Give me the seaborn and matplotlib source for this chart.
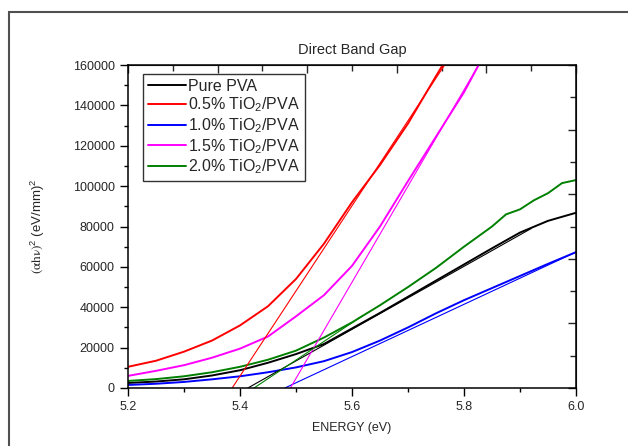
import matplotlib
matplotlib.use("Agg")
import pandas as pd
import matplotlib.pyplot as plt
import seaborn as sns
from matplotlib.patches import Rectangle
from matplotlib.ticker import MultipleLocator, FixedLocator, NullFormatter

# === data ===
x_pure = [5.20, 5.25, 5.30, 5.35, 5.40, 5.45, 5.50, 5.55, 5.60, 5.65, 5.70, 5.75, 5.80, 5.85, 5.90, 5.95, 6.00]
y_pure = [2500, 3200, 4300, 6200, 8800, 12500, 16800, 21800, 29500, 37200, 45200, 53200, 61200, 69200, 77000, 82800, 86800]

x_05 = [5.20, 5.25, 5.30, 5.35, 5.40, 5.45, 5.50, 5.55, 5.60, 5.65, 5.70, 5.75, 5.775]
y_05 = [10500, 13500, 18000, 23500, 31000, 40500, 54000, 71500, 92000, 110500, 131000, 154500, 166000]

x_10 = [5.20, 5.25, 5.30, 5.35, 5.40, 5.45, 5.50, 5.55, 5.60, 5.65, 5.70, 5.75, 5.80, 5.85, 5.90, 5.95, 6.00]
y_10 = [1500, 2100, 3000, 4300, 5800, 7800, 10200, 13300, 17800, 23500, 30000, 37000, 43500, 49500, 55500, 61500, 67300]

x_15 = [5.20, 5.25, 5.30, 5.35, 5.40, 5.45, 5.50, 5.55, 5.60, 5.65, 5.70, 5.75, 5.80, 5.83]
y_15 = [6000, 8500, 11300, 15000, 19500, 25500, 35500, 46000, 60500, 80000, 102500, 124500, 146500, 162000]

x_20 = [5.20, 5.25, 5.30, 5.35, 5.40, 5.45, 5.50, 5.55, 5.60, 5.65, 5.70, 5.75, 5.80, 5.85, 5.875, 5.90, 5.925, 5.95, 5.975, 6.00]
y_20 = [3500, 4400, 5800, 7800, 10500, 14000, 18500, 25000, 32500, 41000, 50000, 59500, 70000, 80000, 86000, 88500, 93000, 96500, 101500, 103000]

labels = ["Pure PVA", "0.5% TiO$_2$/PVA", "1.0% TiO$_2$/PVA", "1.5% TiO$_2$/PVA", "2.0% TiO$_2$/PVA"]
colors = ["black", "red", "blue", "magenta", "green"]

# linear fits (end points)
fit_x = [[5.414, 5.92], [5.386, 5.782], [5.480, 6.005], [5.490, 5.828], [5.425, 5.62]]
fit_y = [[0, 79000], [0, 167000], [0, 68000], [0, 161000], [0, 36000]]

curves = [(x_pure, y_pure), (x_05, y_05), (x_10, y_10), (x_15, y_15), (x_20, y_20)]
df = pd.concat([pd.DataFrame({"energy": xs, "value": ys, "sample": lab})
                for (xs, ys), lab in zip(curves, labels)], ignore_index=True)

# === style ===
sns.set_style("ticks")
plt.rcParams["font.family"] = ["Liberation Sans", "DejaVu Sans"]
plt.rcParams["mathtext.fontset"] = "stix"
plt.rcParams["mathtext.default"] = "regular"

fig = plt.figure(figsize=(6.28, 4.46), dpi=100)
ax = fig.add_axes([128 / 628, 1 - 388 / 446, 448 / 628, 323 / 446])

sns.lineplot(data=df, x="energy", y="value", hue="sample", palette=colors,
             hue_order=labels, sort=False, linewidth=1.4, ax=ax)
for fx, fy, c in zip(fit_x, fit_y, colors):
    sns.lineplot(x=fx, y=fy, color=c, linewidth=0.8, ax=ax, legend=False)

ax.set_xlim(5.2, 6.0)
ax.set_ylim(0, 160000)
ax.xaxis.set_major_locator(MultipleLocator(0.2))
ax.xaxis.set_minor_locator(MultipleLocator(0.1))
ax.yaxis.set_major_locator(MultipleLocator(20000))
ax.yaxis.set_minor_locator(MultipleLocator(10000))
ax.tick_params(which="major", direction="out", length=6, width=1, labelsize=9, color="black")
ax.tick_params(which="minor", direction="out", length=3, width=1, color="black")
for s in ax.spines.values():
    s.set_visible(True)
    s.set_linewidth(1.1)
    s.set_color("black")

# top / right axes with their own ticks
top = ax.secondary_xaxis("top")
top.xaxis.set_major_locator(FixedLocator([5.2 + 0.16 * k for k in range(6)]))
top.xaxis.set_minor_locator(FixedLocator([5.28 + 0.16 * k for k in range(5)]))
top.xaxis.set_major_formatter(NullFormatter())
top.tick_params(which="major", direction="in", length=6, width=1)
top.tick_params(which="minor", direction="in", length=4, width=1)
right = ax.secondary_yaxis("right")
right.yaxis.set_major_locator(FixedLocator([32000 * k for k in range(6)]))
right.yaxis.set_minor_locator(FixedLocator([16000 + 32000 * k for k in range(5)]))
right.yaxis.set_major_formatter(NullFormatter())
right.tick_params(which="major", direction="in", length=6, width=1)
right.tick_params(which="minor", direction="in", length=4, width=1)

ax.set_title("Direct Band Gap", fontsize=10.5, pad=8)
ax.set_xlabel("ENERGY (eV)", fontsize=9, labelpad=6)
ax.set_ylabel(r"$\mathrm{(\alpha h\nu)}^{2}$ (eV/mm)$^{2}$", fontsize=9.5)
ax.yaxis.set_label_coords(-0.18, 0.5)

leg = ax.legend(loc="upper left", bbox_to_anchor=(0.033, 0.972), borderaxespad=0,
                fontsize=11.5, handlelength=2.4, handletextpad=0.15, labelspacing=0.12,
                frameon=True, fancybox=False, edgecolor="black", borderpad=0.3)
leg.get_frame().set_linewidth(1.0)
for h in leg.get_lines():
    h.set_linewidth(1.4)

# outer frame of the picture
fig.add_artist(Rectangle((8.5 / 628, -0.1), 1.2, 1.1 - 11.5 / 446, transform=fig.transFigure,
                         fill=False, edgecolor="#505050", linewidth=1.5))

fig.savefig("out.png", dpi=100)
